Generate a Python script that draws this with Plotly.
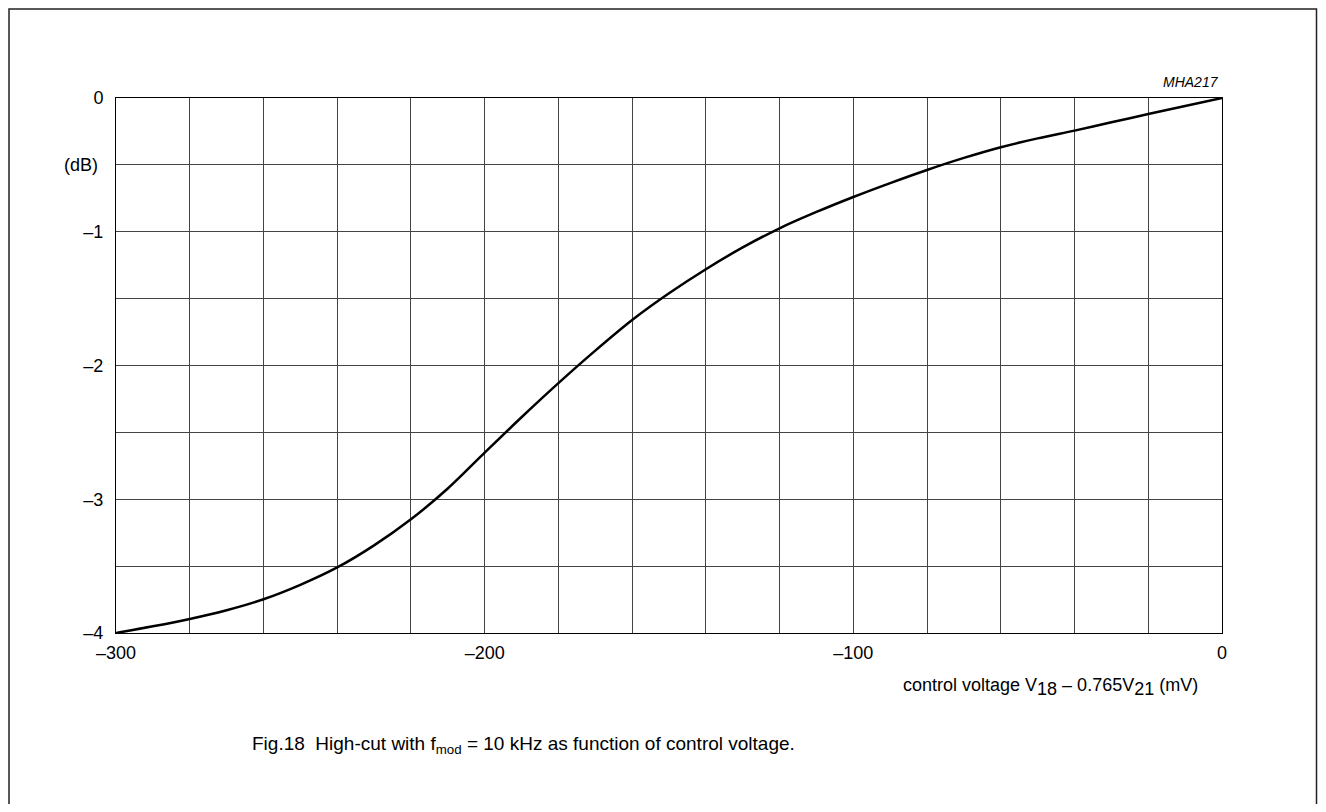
import plotly.graph_objects as go

# control voltage V18 - 0.765V21 (mV)
control_mv = [-300, -290, -280, -270, -260, -250, -240, -230, -220, -210, -200,
              -190, -180, -170, -160, -150, -140, -130, -120, -110, -100,
              -90, -80, -70, -60, -50, -40, -30, -20, -10, 0]
# high-cut attenuation (dB)
high_cut_db = [-4.0, -3.95, -3.895, -3.83, -3.748, -3.64, -3.51, -3.345, -3.15, -2.92, -2.652,
               -2.387, -2.132, -1.889, -1.66, -1.46, -1.28, -1.117, -0.974, -0.852, -0.74,
               -0.636, -0.538, -0.448, -0.368, -0.302, -0.244, -0.182, -0.12, -0.06, 0.0]

x_tick_vals = [-300, -200, -100, 0]
x_tick_text = ["\u2013300", "\u2013200", "\u2013100", "0"]
y_tick_vals = [0, -1, -2, -3, -4]
y_tick_text = ["0", "\u20131", "\u20132", "\u20133", "\u20134"]

FONT = "Liberation Sans, Arial, sans-serif"

# the page body adds an 8px margin, so the figure is sized to fit inside it
W, H = 1310, 796
L, T, R, B = 108, 90, 96, 171
PW, PH = W - L - R, H - T - B

fig = go.Figure()
fig.add_trace(go.Scatter(
    x=control_mv, y=high_cut_db, mode="lines",
    line=dict(color="black", width=2.5, shape="spline", smoothing=0.8),
    showlegend=False, hoverinfo="skip",
))

# grid every 20 mV / 0.5 dB
fig.update_xaxes(
    range=[-300, 0], tickvals=x_tick_vals, ticktext=x_tick_text,
    showgrid=True, gridcolor="#444", gridwidth=1,
    minor=dict(dtick=20, tick0=0, showgrid=True, gridcolor="#444", gridwidth=1),
    showline=True, linecolor="black", linewidth=1, mirror=True,
    ticks="", ticklabelstandoff=3, zeroline=False,
    tickfont=dict(family=FONT, size=18, color="black"),
)
fig.update_yaxes(
    range=[-4, 0], tickvals=y_tick_vals, ticktext=y_tick_text,
    showgrid=True, gridcolor="#444", gridwidth=1,
    minor=dict(dtick=0.5, tick0=0, showgrid=True, gridcolor="#444", gridwidth=1),
    showline=True, linecolor="black", linewidth=1, mirror=True,
    ticks="", ticklabelstandoff=8, zeroline=False,
    tickfont=dict(family=FONT, size=18, color="black"),
)

fig.add_annotation(text="(dB)", xref="paper", yref="y", x=0, y=-0.5,
                   xanchor="right", yanchor="middle", xshift=-16, showarrow=False,
                   font=dict(family=FONT, size=18, color="black"))
fig.add_annotation(text="<i>MHA217</i>", xref="paper", yref="paper", x=1, y=1,
                   xanchor="right", yanchor="bottom", xshift=-1, yshift=6, showarrow=False,
                   font=dict(family=FONT, size=14, color="black"))
fig.add_annotation(
    text="control voltage V<sub><span style='font-size:18px'>18</span></sub> \u2013 0.765V"
         "<sub><span style='font-size:18px'>21</span></sub> (mV)",
    xref="paper", yref="paper", x=1, y=0,
    xanchor="right", yanchor="top", xshift=-22, yshift=-40, showarrow=False,
    font=dict(family=FONT, size=18, color="black"))
fig.add_annotation(text="Fig.18  High-cut with f<sub>mod</sub> = 10 kHz as function of control voltage.",
                   xref="paper", yref="paper", x=(523 - 116) / PW, y=0,
                   xanchor="center", yanchor="middle", yshift=-112, showarrow=False,
                   font=dict(family=FONT, size=19, color="black"))

# outer frame of the figure panel
fig.add_shape(type="rect", xref="paper", yref="paper",
              x0=(1 - L) / PW, x1=(W - 1.5 - L) / PW,
              y0=-0.4, y1=(PH + T - 1) / PH,
              line=dict(color="#222", width=1.5), layer="above")

fig.update_layout(
    width=W, height=H,
    margin=dict(l=L, r=R, t=T, b=B),
    plot_bgcolor="white", paper_bgcolor="white",
    font=dict(family=FONT, color="black"),
)

fig.write_html("out.html")
